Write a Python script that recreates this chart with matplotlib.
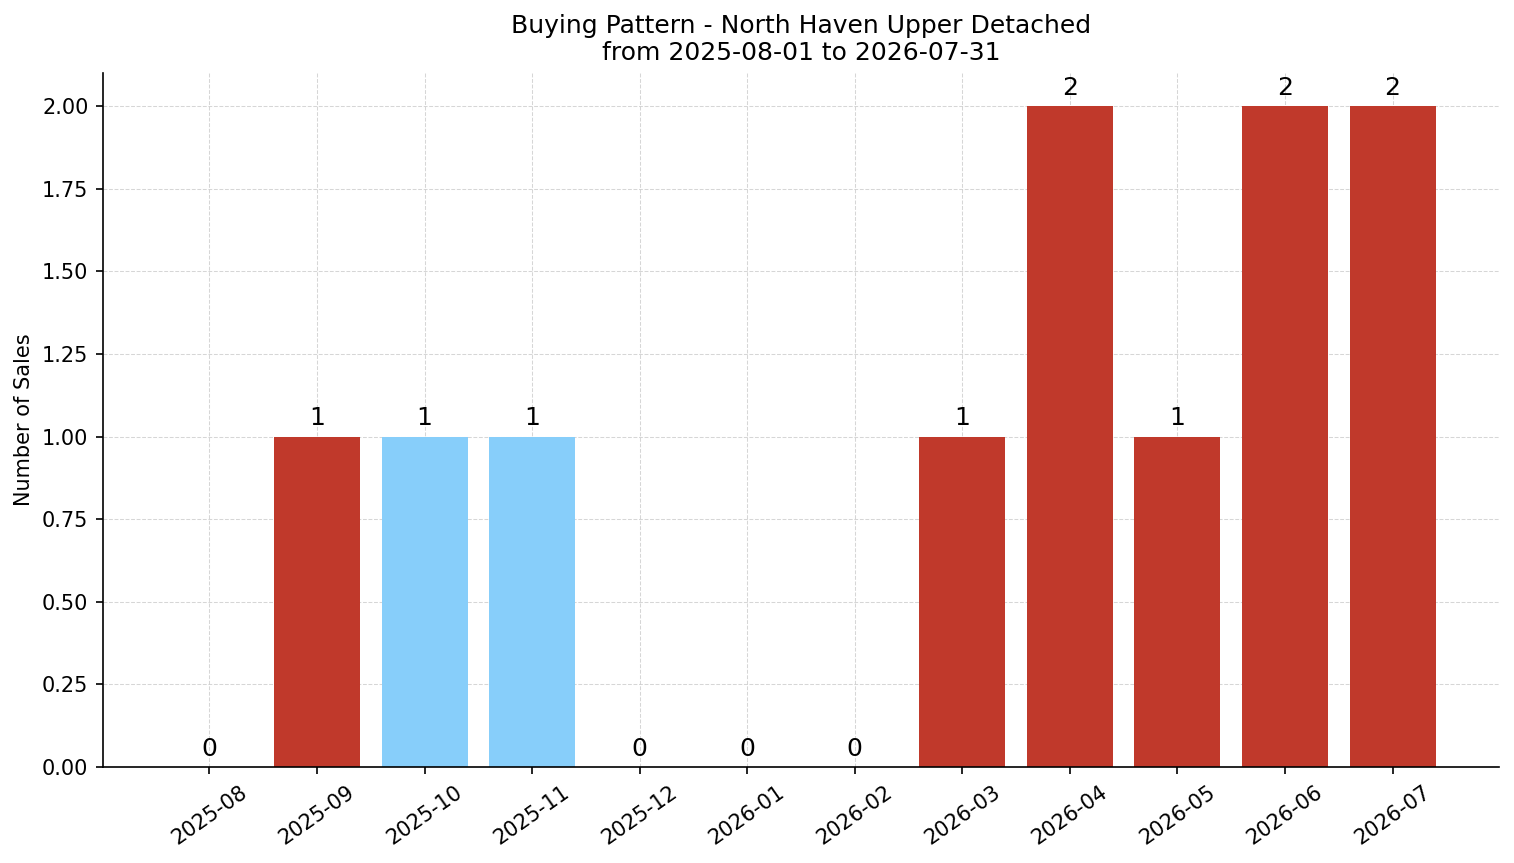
import matplotlib
matplotlib.use("Agg")
import matplotlib.pyplot as plt

months = ["2025-08", "2025-09", "2025-10", "2025-11", "2025-12", "2026-01",
          "2026-02", "2026-03", "2026-04", "2026-05", "2026-06", "2026-07"]
sales = [0, 1, 1, 1, 0, 0, 0, 1, 2, 1, 2, 2]
colors = ["#c0392b", "#c0392b", "#87cefa", "#87cefa", "#c0392b", "#c0392b",
          "#c0392b", "#c0392b", "#c0392b", "#c0392b", "#c0392b", "#c0392b"]

fig = plt.figure(figsize=(1514/150, 863/150), dpi=150)
ax = fig.add_axes([103/1514, 1-767/863, (1499-103)/1514, (767-73)/863])
x = list(range(len(months)))
bars = ax.bar(x, sales, color=colors, width=0.8, zorder=2)
ax.bar_label(bars, labels=[str(v) for v in sales], padding=3, fontsize=12)
ax.set_xticks(x)
ax.set_xticklabels(months, rotation=35, fontsize=10)
ax.tick_params(axis="y", labelsize=10)
ax.set_ylim(0, 2.1)
ax.set_ylabel("Number of Sales", fontsize=10)
ax.set_title("Buying Pattern - North Haven Upper Detached\nfrom 2025-08-01 to 2026-07-31", fontsize=12)
ax.grid(True, linestyle="--", color="#cccccc", alpha=0.8, linewidth=0.5, zorder=0)
ax.set_axisbelow(True)
ax.spines["top"].set_visible(False)
ax.spines["right"].set_visible(False)
fig.savefig("out.png", dpi=150)
